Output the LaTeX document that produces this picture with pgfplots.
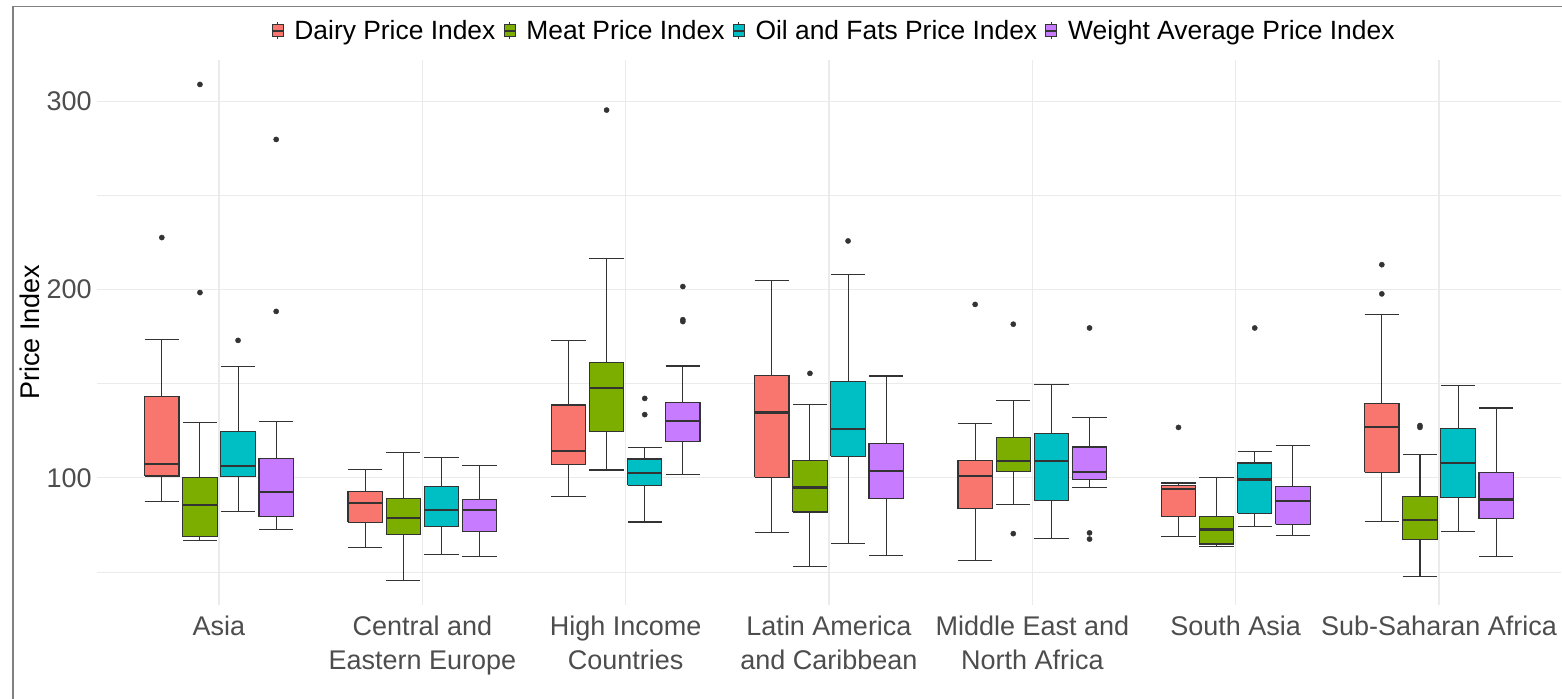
\documentclass[border=0pt]{standalone}
\usepackage{pgfplots}
\pgfplotsset{compat=1.18}
\usepackage{fontspec}
\setmainfont{Liberation Sans}
\definecolor{dairy}{HTML}{F8766D}
\definecolor{meat}{HTML}{7CAE00}
\definecolor{oil}{HTML}{00BFC4}
\definecolor{wavg}{HTML}{C77CFF}
\definecolor{g20}{HTML}{333333}
\definecolor{g30}{HTML}{4D4D4D}
\definecolor{gridc}{HTML}{EBEBEB}
\definecolor{framec}{HTML}{808080}
\pgfplotsset{
  outl/.style={only marks, forget plot, mark=*, mark size=1.3pt, mark options={fill=g20, draw=g20, line width=0.2pt, solid}},
}
% #1 position, #2 colour, #3 lower whisker, #4 lower quartile, #5 median, #6 upper quartile, #7 upper whisker
\newcommand{\bx}[7]{%
  \pgfmathsetmacro\xa{#1-0.0845}\pgfmathsetmacro\xb{#1+0.0845}%
  \edef\tmp{\noexpand\addplot[draw=g20, line width=0.55pt, forget plot] coordinates {(#1,#3) (#1,#4) (nan,nan) (#1,#6) (#1,#7) (nan,nan) (\xa,#3) (\xb,#3) (nan,nan) (\xa,#7) (\xb,#7)};%
  \noexpand\addplot[draw=g20, line width=0.55pt, fill=#2, forget plot] coordinates {(\xa,#4) (\xb,#4) (\xb,#6) (\xa,#6) (\xa,#4)};%
  \noexpand\addplot[draw=g20, line width=1.1pt, forget plot] coordinates {(\xa,#5) (\xb,#5)};}%
  \tmp}
\newcommand{\keyimg}[1]{\addlegendimage{legend image code/.code={
  \draw[g20, line width=0.5pt] (2.75pt,-4.25pt) -- (2.75pt,4.25pt);
  \draw[g20, line width=0.5pt, fill=#1] (0pt,-3pt) rectangle (5.5pt,3pt);
  \draw[g20, line width=0.7pt] (0pt,0pt) -- (5.5pt,0pt);}}}
\begin{document}
\begin{tikzpicture}
\useasboundingbox (0,0) rectangle (781pt,349pt);
\draw[framec, line width=0.9pt] (6.5pt,-1pt) -- (6.5pt,345.75pt) -- (782pt,345.75pt);
\begin{axis}[
  at={(48.5pt,46.5pt)}, anchor=south west,
  width=732pt, height=272.7pt, scale only axis,
  xmin=0.4, xmax=7.6, ymin=32.5, ymax=322.1,
  unbounded coords=jump,
  axis line style={draw=none},
  tick style={draw=none},
  xtick={1,2,3,4,5,6,7},
  xticklabels={Asia,{Central and\\Eastern Europe},{High Income\\Countries},{Latin America\\and Caribbean},{Middle East and\\North Africa},South Asia,Sub-Saharan Africa},
  xticklabel style={align=center, text=g30, font=\fontsize{13.5}{16.8}\selectfont, inner sep=0pt, yshift=-5.5pt},
  ytick={100,200,300}, minor ytick={50,150,250},
  yticklabel style={text=g30, font=\fontsize{13.5}{16}\selectfont, inner sep=0pt, xshift=-2.5pt},
  /pgf/number format/assume math mode=true,
  xmajorgrids, ymajorgrids, yminorgrids,
  major grid style={draw=gridc, line width=0.6pt},
  minor grid style={draw=gridc, line width=0.35pt},
  ylabel={Price Index},
  ylabel style={at={(axis description cs:-0.0458,0.5)}, rotate=0, anchor=center, font=\fontsize{13.5}{16}\selectfont},
  legend columns=4,
  legend style={at={(axis description cs:0.5027,1.0525)}, anchor=center, draw=none, fill=none,
    font=\fontsize{13.2}{15}\selectfont, inner sep=0pt,
    nodes={inner sep=0pt},
    /tikz/every odd column/.append style={column sep=5.3pt},
    /tikz/every even column/.append style={column sep=4pt}},
]
\keyimg{dairy}\addlegendentry{Dairy Price Index}
\keyimg{meat}\addlegendentry{Meat Price Index}
\keyimg{oil}\addlegendentry{Oil and Fats Price Index}
\keyimg{wavg}\addlegendentry{Weight Average Price Index}
% Asia
\bx{0.71875}{dairy}{87.6}{101.0}{107.5}{143.1}{173.4}
\bx{0.90625}{meat}{66.9}{68.8}{85.5}{100.0}{129.4}
\bx{1.09375}{oil}{82.1}{100.6}{106.2}{124.7}{159.2}
\bx{1.28125}{wavg}{72.6}{79.3}{92.7}{110.5}{129.8}
% Central and Eastern Europe
\bx{1.71875}{dairy}{62.8}{76.4}{86.6}{92.9}{104.6}
\bx{1.90625}{meat}{45.7}{69.8}{78.7}{88.9}{113.3}
\bx{2.09375}{oil}{59.5}{74.3}{83.0}{95.3}{110.9}
\bx{2.28125}{wavg}{58.4}{71.7}{83.0}{88.5}{106.5}
% High Income Countries
\bx{2.71875}{dairy}{90.3}{106.9}{114.4}{138.7}{173.1}
\bx{2.90625}{meat}{104.2}{124.5}{147.7}{161.2}{216.5}
\bx{3.09375}{oil}{76.6}{96.0}{102.7}{110.0}{116.1}
\bx{3.28125}{wavg}{101.6}{119.2}{130.0}{139.8}{159.4}
% Latin America and Caribbean
\bx{3.71875}{dairy}{71.1}{100.4}{134.7}{154.4}{204.8}
\bx{3.90625}{meat}{53.1}{81.9}{94.9}{109.1}{139.1}
\bx{4.09375}{oil}{65.3}{111.5}{125.9}{151.1}{208.1}
\bx{4.28125}{wavg}{58.7}{89.0}{103.7}{118.3}{154.1}
% Middle East and North Africa
\bx{4.71875}{dairy}{56.2}{83.6}{101.1}{109.1}{128.9}
\bx{4.90625}{meat}{85.8}{103.3}{108.9}{121.4}{141.1}
\bx{5.09375}{oil}{68.0}{88.0}{109.0}{123.7}{149.7}
\bx{5.28125}{wavg}{94.7}{99.3}{103.3}{116.4}{132.0}
% South Asia
\bx{5.71875}{dairy}{68.8}{79.4}{94.3}{95.8}{97.3}
\bx{5.90625}{meat}{63.7}{64.9}{72.6}{79.4}{100.4}
\bx{6.09375}{oil}{74.4}{81.2}{99.1}{107.9}{113.9}
\bx{6.28125}{wavg}{69.5}{75.3}{87.8}{95.6}{117.0}
% Sub-Saharan Africa
\bx{6.71875}{dairy}{77.0}{102.9}{127.0}{139.5}{186.8}
\bx{6.90625}{meat}{47.4}{67.1}{77.5}{90.3}{112.6}
\bx{7.09375}{oil}{71.7}{89.4}{107.7}{126.3}{149.1}
\bx{7.28125}{wavg}{58.2}{78.3}{88.5}{102.9}{137.1}
% outliers
\addplot[outl] coordinates {
 (0.71875,227.6) (0.90625,308.9) (0.90625,198.4) (1.09375,173.0) (1.28125,279.7) (1.28125,188.4)
 (2.90625,295.3) (3.09375,142.2) (3.09375,133.6) (3.28125,201.6) (3.28125,184.0) (3.28125,183.0)
 (3.90625,155.5) (4.09375,225.8)
 (4.71875,192.1) (4.90625,181.6) (4.90625,70.4) (5.28125,179.6) (5.28125,70.8) (5.28125,67.5)
 (5.71875,126.8) (6.09375,179.6)
 (6.71875,213.2) (6.71875,197.7) (6.90625,127.8) (6.90625,126.8)
};
\end{axis}
\end{tikzpicture}
\end{document}
